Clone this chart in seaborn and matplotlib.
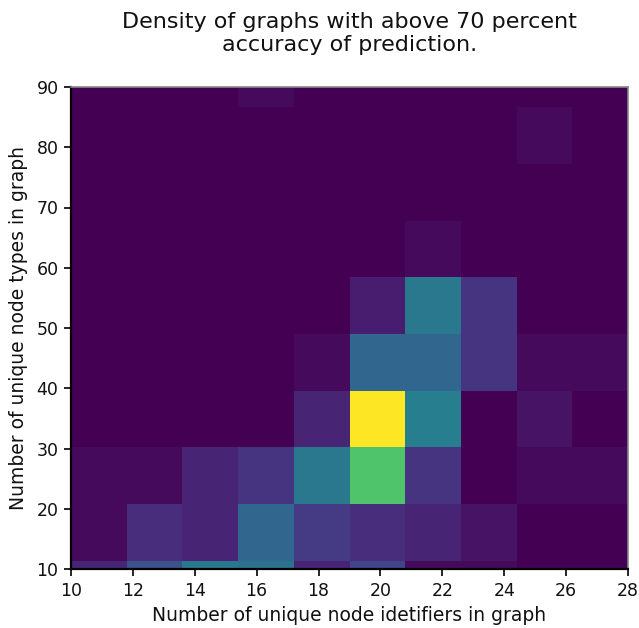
import numpy as np
import pandas as pd
import matplotlib
matplotlib.use("Agg")
import matplotlib.pyplot as plt
import seaborn as sns

sns.set_style("ticks")
plt.rcParams['font.family'] = ['DejaVu Sans']

# Bin edges of the 2D histogram
x_edges = np.linspace(10, 28, 11)
y_edges = np.linspace(2, 96, 11)

# Counts per cell: rows = y bins (bottom to top), columns = x bins (left to right)
row_y0 = [4, 10, 16, 15, 4, 8, 1, 1, 0, 0]
row_y1 = [1, 5, 4, 13, 7, 5, 4, 2, 0, 0]
row_y2 = [1, 1, 4, 6, 16, 29, 6, 0, 1, 1]
row_y3 = [0, 0, 0, 0, 4, 40, 17, 0, 2, 0]
row_y4 = [0, 0, 0, 0, 1, 13, 13, 6, 1, 1]
row_y5 = [0, 0, 0, 0, 0, 3, 16, 6, 0, 0]
row_y6 = [0, 0, 0, 0, 0, 0, 1, 0, 0, 0]
row_y7 = [0, 0, 0, 0, 0, 0, 0, 0, 0, 0]
row_y8 = [0, 0, 0, 0, 0, 0, 0, 0, 1, 0]
row_y9 = [0, 0, 0, 1, 0, 0, 0, 0, 0, 0]
counts = [row_y0, row_y1, row_y2, row_y3, row_y4, row_y5, row_y6, row_y7, row_y8, row_y9]

x_centers = (x_edges[:-1] + x_edges[1:]) / 2
y_centers = (y_edges[:-1] + y_edges[1:]) / 2
records = []
for j, row in enumerate(counts):
    for i, c in enumerate(row):
        records.append({"x": x_centers[i], "y": y_centers[j], "count": c})
df = pd.DataFrame(records)

fig = plt.figure(figsize=(6.39, 6.28), dpi=100)
ax = fig.add_axes([71/639, 1 - 569/628, (628 - 71)/639, (569 - 87)/628])

sns.histplot(data=df, x="x", y="y", weights="count", bins=(x_edges, y_edges),
             cmap="viridis", thresh=None, ax=ax)

ax.set_xlim(10, 28)
ax.set_ylim(10, 90)
ax.set_xticks(np.arange(10, 29, 2))
ax.set_yticks(np.arange(10, 91, 10))
ax.tick_params(labelsize=12.5, length=5, width=1.2, color="black", pad=4)
for t in ax.get_xticklabels() + ax.get_yticklabels():
    t.set_color("#111111")

ax.set_xlabel("Number of unique node idetifiers in graph", fontsize=13.5,
              labelpad=5, color="#111111")
ax.set_ylabel("Number of unique node types in graph", fontsize=13.5,
              labelpad=6, color="#111111")
ax.set_title("Density of graphs with above 70 percent\naccuracy of prediction.",
             fontsize=16, pad=26, color="#111111")

for s in ["left", "bottom"]:
    ax.spines[s].set_color("black")
    ax.spines[s].set_linewidth(1.6)
for s in ["top", "right"]:
    ax.spines[s].set_color("#888888")
    ax.spines[s].set_linewidth(1.2)

fig.savefig("out.png", dpi=100)
